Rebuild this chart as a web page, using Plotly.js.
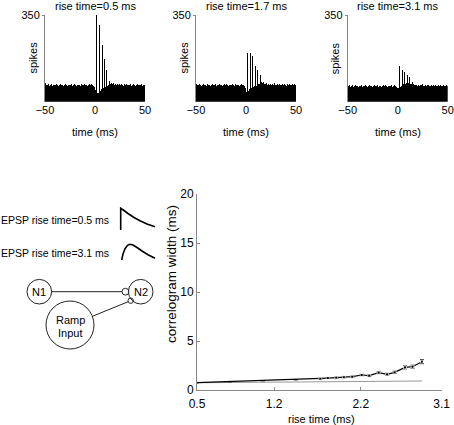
<!DOCTYPE html>
<html>
<head>
<meta charset="utf-8">
<script src="https://cdn.plot.ly/plotly-3.0.1.min.js"></script>
<style>html,body{margin:0;padding:0;background:#fff;}#chart{width:454px;height:425px;}</style>
</head>
<body>
<div id="chart"></div>
<script>
// ---------- DATA ----------
// histogram bins (ms, left edges -50..49)
const binTimes = [];
for (let t = -50; t < 50; t++) binTimes.push(t + 0.5);

const spikes05 = [
74,66,69,71,65,68,70,64,67,69,
66,70,68,63,67,71,66,69,65,68,
70,67,64,69,66,68,71,65,67,70,
66,63,68,69,67,65,70,68,66,72,
67,69,64,68,71,66,70,67,62,58,
48,350,34,36,310,45,52,229,55,171,
58,128,62,66,83,72,76,70,74,68,
71,69,73,67,70,66,72,68,65,70,
67,71,69,66,68,72,65,69,70,67,
64,68,71,66,69,67,70,65,68,69];

const spikes17 = [
72,68,66,70,67,64,69,71,66,68,
65,70,67,69,63,68,72,66,67,70,
64,68,66,71,67,69,65,68,70,66,
73,67,64,69,68,66,70,67,65,71,
68,66,69,64,67,70,66,68,63,55,
40,198,45,50,195,55,184,60,62,144,
65,128,70,72,108,78,75,80,72,70,
74,68,71,69,73,67,70,66,75,69,
67,71,68,72,66,69,70,67,73,68,
65,70,68,71,66,69,72,67,70,68];

const spikes31 = [
62,66,60,64,68,61,63,67,62,65,
60,64,63,67,61,65,62,66,64,60,
63,68,62,65,61,64,66,62,63,67,
61,65,63,60,64,66,62,68,63,61,
65,62,64,67,61,63,66,62,60,56,
55,145,60,62,128,70,121,72,75,108,
74,98,72,70,81,70,68,66,69,65,
67,64,68,66,70,63,65,67,64,69,
66,63,65,68,62,66,64,67,63,65,
68,62,66,64,63,67,62,65,68,64];

const panelTitles = ['rise time=0.5 ms', 'rise time=1.7 ms', 'rise time=3.1 ms'];
const histTicks = [-50, 0, 50];

// correlogram width vs rise time
const riseTime = [0.50,0.85,1.20,1.55,1.81,1.89,1.98,2.06,2.15,2.25,2.33,2.43,2.52,2.60,2.71,2.79,2.89];
const corrWidth = [0.75,0.85,0.95,1.05,1.15,1.22,1.26,1.30,1.36,1.53,1.46,1.77,1.60,1.80,2.31,2.38,2.89];
const corrErr = [0,0,0,0,0.05,0.05,0.06,0.06,0.07,0.08,0.08,0.10,0.10,0.12,0.15,0.15,0.20];
const riseTimeGrey = [0.50,1.20,2.20,2.89];
const corrWidthGrey = [0.74,0.79,0.86,0.92];
const xTickPos = [0.5, 1.32, 2.24, 3.1];
const xTickText = ['0.5', '1.2', '2.2', '3.1'];
const yTicks = [0, 5, 10, 15, 20];

// ---------- LAYOUT HELPERS ----------
const W = 454, H = 425;
const PX = x => x / W;
const PY = y => 1 - y / H;
const BLACK = '#000';

const panelLeft = [45, 196, 347.7];
const panelW = 100;
const histTop = 15, histBot = 101.7;

const traces = [];
const layout = {
  width: W, height: H,
  margin: {l: 0, r: 0, t: 0, b: 0},
  paper_bgcolor: '#fff', plot_bgcolor: 'rgba(0,0,0,0)',
  showlegend: false,
  bargap: 0,
  font: {family: 'Liberation Sans, Arial, sans-serif', size: 11, color: BLACK},
  annotations: [],
  shapes: []
};

const histData = [spikes05, spikes17, spikes31];
for (let i = 0; i < 3; i++) {
  const xa = i === 0 ? 'x' : 'x' + (i + 1);
  const ya = i === 0 ? 'y' : 'y' + (i + 1);
  const xk = i === 0 ? 'xaxis' : 'xaxis' + (i + 1);
  const yk = i === 0 ? 'yaxis' : 'yaxis' + (i + 1);
  traces.push({
    type: 'bar', x: binTimes, y: histData[i], xaxis: xa, yaxis: ya,
    width: 1, marker: {color: BLACK, line: {width: 0}}, hoverinfo: 'skip'
  });
  layout[xk] = {
    domain: [PX(panelLeft[i]), PX(panelLeft[i] + panelW)], anchor: ya,
    range: [-50, 50], tickvals: histTicks, ticks: '', showline: false,
    zeroline: false, showgrid: false, tickfont: {size: 11, color: BLACK}, fixedrange: true
  };
  layout[yk] = {
    domain: [PY(histBot), PY(histTop)], anchor: xa,
    range: [0, 350], tickvals: [350], ticks: 'outside', ticklen: 2, tickcolor: '#888',
    showline: true, linecolor: '#888', linewidth: 1,
    zeroline: false, showgrid: false, tickfont: {size: 11, color: BLACK}, fixedrange: true
  };
  const cx = panelLeft[i] + 50;
  layout.annotations.push(
    {text: panelTitles[i], x: PX(cx), y: PY(6), xref: 'paper', yref: 'paper', showarrow: false, xanchor: 'center', yanchor: 'middle', font: {size: 11, color: BLACK}},
    {text: 'spikes', x: PX(panelLeft[i] - 12.5), y: PY(58), xref: 'paper', yref: 'paper', showarrow: false, textangle: -90, xanchor: 'center', yanchor: 'middle', font: {size: 11, color: BLACK}},
    {text: 'time (ms)', x: PX(cx), y: PY(132), xref: 'paper', yref: 'paper', showarrow: false, xanchor: 'center', yanchor: 'middle', font: {size: 11, color: BLACK}}
  );
}

// main chart
traces.push({
  type: 'scatter', mode: 'lines', x: riseTimeGrey, y: corrWidthGrey,
  xaxis: 'x4', yaxis: 'y4', line: {color: '#999', width: 1.2}, hoverinfo: 'skip'
});
traces.push({
  type: 'scatter', mode: 'lines+markers', x: riseTime, y: corrWidth,
  xaxis: 'x4', yaxis: 'y4', line: {color: BLACK, width: 1.2},
  marker: {color: BLACK, size: riseTime.map((v, i) => corrErr[i] > 0 ? 3 : 0), symbol: 'square'},
  error_y: {type: 'data', array: corrErr, visible: true, color: BLACK, thickness: 1, width: 2},
  hoverinfo: 'skip'
});
layout.xaxis4 = {
  domain: [PX(197), PX(441.7)], anchor: 'y4', range: [0.5, 3.1],
  tickvals: xTickPos, ticktext: xTickText, ticks: 'inside', ticklen: 3, tickcolor: '#888',
  ticklabelstandoff: 3,
  showline: true, linecolor: '#888', linewidth: 1, zeroline: false, showgrid: false,
  tickfont: {size: 12, color: BLACK}, fixedrange: true
};
layout.yaxis4 = {
  domain: [PY(390), PY(194)], anchor: 'x4', range: [0, 20],
  tickvals: yTicks, ticks: 'inside', ticklen: 3, tickcolor: '#888',
  showline: true, linecolor: '#888', linewidth: 1, zeroline: false, showgrid: false,
  tickfont: {size: 12, color: BLACK}, fixedrange: true
};
layout.annotations.push(
  {text: 'correlogram width (ms)', x: PX(171), y: PY(274), xref: 'paper', yref: 'paper', showarrow: false, textangle: -90, xanchor: 'center', yanchor: 'middle', font: {size: 13.5, color: BLACK}},
  {text: 'rise time (ms)', x: PX(321.7), y: PY(419), xref: 'paper', yref: 'paper', showarrow: false, xanchor: 'center', yanchor: 'middle', font: {size: 11, color: BLACK}}
);

// schematic diagram
const diagText = [
  ['EPSP rise time=0.5 ms', 0, 220, 'left', 10.5],
  ['EPSP rise time=3.1 ms', 0, 253, 'left', 10.5],
  ['N1', 39.3, 291.7, 'center', 11],
  ['N2', 140.7, 291.7, 'center', 11],
  ['Ramp', 70, 319.5, 'center', 11],
  ['Input', 70, 332.5, 'center', 11]
];
diagText.forEach(d => layout.annotations.push({
  text: d[0], x: PX(d[1]), y: PY(d[2]), xref: 'paper', yref: 'paper', showarrow: false,
  xanchor: d[3], yanchor: 'middle', borderpad: 0, font: {size: d[4], color: BLACK}
}));

function pathFrom(pts) {
  return pts.map((p, i) => (i ? 'L' : 'M') + PX(p[0]).toFixed(5) + ',' + PY(p[1]).toFixed(5)).join(' ');
}
const epspFast = [[120.7,230],[120.7,208.3],[124,210.5],[128,213.5],[134,217.5],[140,220.8],[147,224],[155,226.7]];
const epspSlow = [[121.7,260],[123,254],[125,248.7],[127.5,245.3],[130,244.3],[133,245],[137,247.5],[142,251],[148,254.7],[155,258.3]];
layout.shapes.push(
  {type: 'path', xref: 'paper', yref: 'paper', path: pathFrom(epspFast), line: {color: BLACK, width: 1.6}},
  {type: 'path', xref: 'paper', yref: 'paper', path: pathFrom(epspSlow), line: {color: BLACK, width: 1.6}},
  {type: 'line', xref: 'paper', yref: 'paper', x0: PX(51.6), y0: PY(291.7), x1: PX(122), y1: PY(291.7), line: {color: '#222', width: 1}},
  {type: 'line', xref: 'paper', yref: 'paper', x0: PX(92.4), y0: PY(316.3), x1: PX(128.2), y1: PY(301.7), line: {color: '#222', width: 1}}
);
function circle(cx, cy, r) {
  return {type: 'circle', xref: 'paper', yref: 'paper', x0: PX(cx - r), x1: PX(cx + r), y0: PY(cy + r), y1: PY(cy - r), line: {color: '#222', width: 1}, fillcolor: 'rgba(0,0,0,0)'};
}
layout.shapes.push(
  circle(39.3, 291.7, 12.3),
  circle(140.7, 291.7, 12.3),
  circle(70, 325, 24),
  circle(125.4, 291.7, 3.4),
  circle(130.7, 300.7, 2.7)
);

Plotly.newPlot('chart', traces, layout, {staticPlot: true, displayModeBar: false});
</script>
</body>
</html>
